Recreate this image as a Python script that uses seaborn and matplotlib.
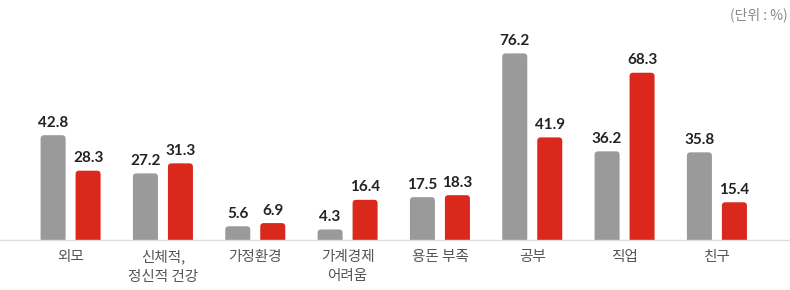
import matplotlib
matplotlib.use("Agg")
import matplotlib.pyplot as plt
import seaborn as sns
import pandas as pd
from matplotlib.patches import FancyBboxPatch

categories = ["외모", "신체적,\n정신적 건강", "가정환경", "가계경제\n어려움", "용돈 부족", "공부", "직업", "친구"]
series_names = ["계열1", "계열2"]
values_gray = [42.8, 27.2, 5.6, 4.3, 17.5, 76.2, 36.2, 35.8]
values_red = [28.3, 31.3, 6.9, 16.4, 18.3, 41.9, 68.3, 15.4]
unit_label = "(단위 : %)"

colors = ["#9a9a9a", "#da291c"]

df = pd.DataFrame({
    "category": categories * 2,
    "series": [series_names[0]] * len(categories) + [series_names[1]] * len(categories),
    "value": values_gray + values_red,
})

sns.set_theme(style="white")
plt.rcParams["font.family"] = ["Noto Sans CJK KR", "DejaVu Sans"]

fig = plt.figure(figsize=(7.9, 2.9), dpi=100)
ax = fig.add_axes([0, 50 / 290, 1, 240 / 290])

px_x = 92.33
sns.barplot(data=df, x="category", y="value", hue="series", order=categories,
            hue_order=series_names, palette=colors, width=0.758, gap=0.285,
            legend=False, ax=ax, saturation=1)

ax.set_xlim(-70.6 / px_x, (790 - 70.6) / px_x)
ax.set_ylim(0, 98)

# replace bars with top-rounded versions
px_y = 240 / 98
r_px = 3.5
bars = list(ax.patches)
labels_info = []
for p in bars:
    x, w, h = p.get_x(), p.get_width(), p.get_height()
    fc = p.get_facecolor()
    p.set_visible(False)
    rs = r_px / px_x
    aspect = px_x / px_y
    fb = FancyBboxPatch((x, -5), w, h + 5,
                        boxstyle=f"round,pad=0,rounding_size={rs}",
                        mutation_aspect=aspect, facecolor=fc, edgecolor="none",
                        clip_on=True)
    ax.add_patch(fb)
    labels_info.append((x + w / 2, h))

for cx, h in labels_info:
    ax.annotate(f"{h:.1f}", (cx, h), xytext=(0, 4), textcoords="offset points",
                ha="center", va="bottom", fontsize=11, fontweight="bold",
                color="#222222", family=["Lato", "DejaVu Sans"])

for s in ["top", "right", "left"]:
    ax.spines[s].set_visible(False)
ax.spines["bottom"].set_color("#dddddd")
ax.spines["bottom"].set_linewidth(1)
ax.set_xlabel("")
ax.set_ylabel("")
ax.set_yticks([])
ax.tick_params(axis="x", length=0, pad=7, labelsize=10.5, labelcolor="#555555")
for t in ax.get_xticklabels():
    t.set_linespacing(1.5)

fig.text(788 / 790, 1 - 15 / 290, unit_label, ha="right", va="center",
         fontsize=10, color="#888888")

fig.savefig("out.png", dpi=100)
